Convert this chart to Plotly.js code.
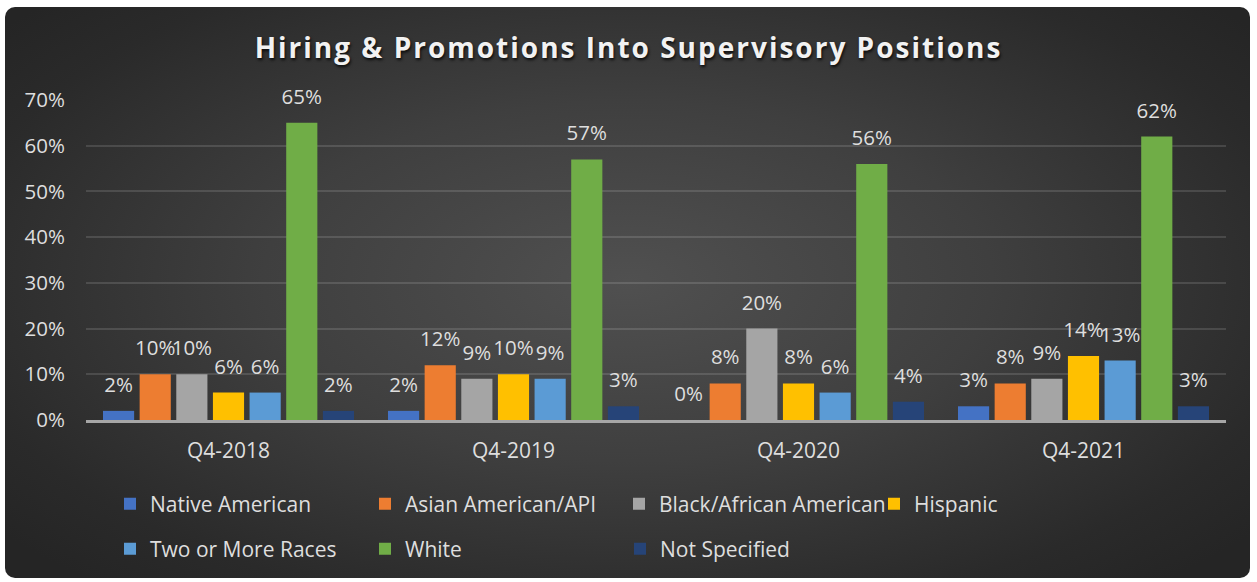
<!DOCTYPE html>
<html>
<head>
<meta charset="utf-8">
<script src="https://cdn.plot.ly/plotly-3.0.1.min.js"></script>
<style>
  html, body { margin: 0; padding: 0; background: #ffffff; }
  #wrap { position: relative; width: 1257px; height: 582px; overflow: hidden; }
  #bg { position: absolute; left: 5px; top: 7px; width: 1245px; height: 571px; border-radius: 10px;
        background: radial-gradient(ellipse 65% 70% at 50% 48%, #505050 0%, #3f3f3f 45%, #2a2a2a 85%, #252525 100%); }
  #chart { position: absolute; left: 0; top: 0; width: 1257px; height: 582px; }
  .gtitle { letter-spacing: 2px; }
</style>
</head>
<body>
<div id="wrap">
  <div id="bg"></div>
  <div id="chart"></div>
</div>
<script>
const categories = ["Q4-2018", "Q4-2019", "Q4-2020", "Q4-2021"];
const nativeAmerican = [2, 2, 0, 3];
const asianAmerican = [10, 12, 8, 8];
const blackAfricanAmerican = [10, 9, 20, 9];
const hispanic = [6, 10, 8, 14];
const twoOrMore = [6, 9, 6, 13];
const white = [65, 57, 56, 62];
const notSpecified = [2, 3, 4, 3];
const yTickVals = [0, 10, 20, 30, 40, 50, 60, 70];
const yTickText = ["0%", "10%", "20%", "30%", "40%", "50%", "60%", "70%"];

const seriesDefs = [
  {name: "Native American", y: nativeAmerican, color: "#4472C4", legend: "legend"},
  {name: "Asian American/API", y: asianAmerican, color: "#ED7D31", legend: "legend"},
  {name: "Black/African American", y: blackAfricanAmerican, color: "#A5A5A5", legend: "legend4"},
  {name: "Hispanic", y: hispanic, color: "#FFC000", legend: "legend2"},
  {name: "Two or More Races", y: twoOrMore, color: "#5B9BD5", legend: "legend3"},
  {name: "White", y: white, color: "#70AD47", legend: "legend3"},
  {name: "Not Specified", y: notSpecified, color: "#264478", legend: "legend3"}
];

const FONT = "Open Sans, Lato, sans-serif";
const TXT = "#dedede";

const traces = seriesDefs.map(s => ({
  type: "bar",
  name: s.name,
  x: categories,
  y: s.y,
  legend: s.legend,
  marker: {color: s.color, line: {width: 0}},
  text: s.y.map(v => v + "%"),
  texttemplate: "<span style='font-size:20.5px'>%{text}</span><br> ",
  textposition: "outside",
  constraintext: "none",
  cliponaxis: false,
  textfont: {family: FONT, size: 10, color: TXT},
  hoverinfo: "x+y+name"
}));

const legendCommon = {
  orientation: "h",
  xref: "container", yref: "container",
  xanchor: "left", yanchor: "middle",
  bgcolor: "rgba(0,0,0,0)",
  borderwidth: 0,
  font: {family: FONT, size: 21, color: TXT},
  itemclick: false, itemdoubleclick: false,
  traceorder: "normal",
  itemwidth: 30,
  entrywidth: 210,
  entrywidthmode: "pixels"
};
const legendSingle = Object.assign({}, legendCommon);
delete legendSingle.entrywidth;
delete legendSingle.entrywidthmode;

const layout = {
  width: 1257, height: 582,
  paper_bgcolor: "rgba(0,0,0,0)",
  plot_bgcolor: "rgba(0,0,0,0)",
  margin: {l: 86, r: 31, t: 100, b: 162, pad: 0},
  barmode: "group",
  bargap: 0.1,
  bargroupgap: 0.15,
  showlegend: true,
  title: {
    text: "Hiring & Promotions Into Supervisory Positions",
    font: {family: FONT, size: 28, color: "#f2f2f2", weight: 700, shadow: "1px 2px 3px rgba(0,0,0,0.8)"},
    x: 0.5, xanchor: "center", xref: "container",
    y: 1 - 48 / 582, yanchor: "middle", yref: "container"
  },
  xaxis: {
    type: "category",
    showgrid: false,
    showline: true, linecolor: "#a6a6a6", linewidth: 2.5,
    ticks: "", ticklabelstandoff: 10,
    tickfont: {family: FONT, size: 21, color: TXT},
    zeroline: false, fixedrange: true
  },
  yaxis: {
    range: [0, 70],
    tickvals: yTickVals, ticktext: yTickText,
    showgrid: true, gridcolor: "rgba(255,255,255,0.13)", gridwidth: 1.5,
    zeroline: false, showline: false,
    ticks: "", ticklabelstandoff: 20,
    tickfont: {family: FONT, size: 20.5, color: TXT},
    fixedrange: true
  },
  legend: Object.assign({}, legendCommon, {x: 110 / 1257, y: 1 - 504 / 582}),
  legend4: Object.assign({}, legendSingle, {x: 619 / 1257, y: 1 - 504 / 582}),
  legend2: Object.assign({}, legendSingle, {x: 874 / 1257, y: 1 - 504 / 582}),
  legend3: Object.assign({}, legendCommon, {x: 110 / 1257, y: 1 - 549 / 582})
};

Plotly.newPlot("chart", traces, layout, {displayModeBar: false, staticPlot: false, responsive: false});
</script>
</body>
</html>
